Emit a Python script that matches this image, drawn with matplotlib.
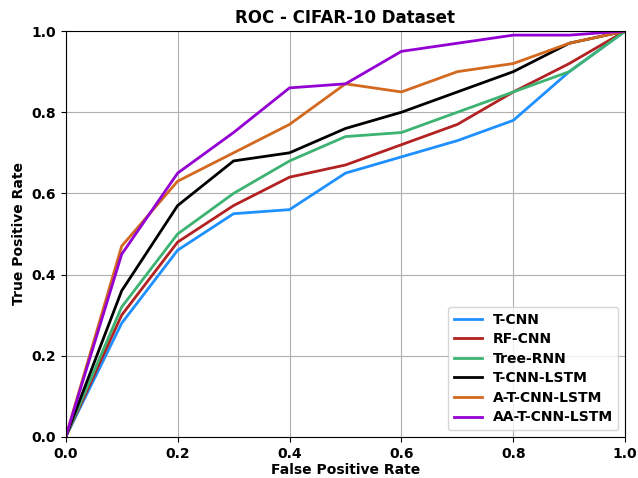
import numpy as np
import matplotlib.pyplot as plt

# ROC points sampled at fixed false positive rates
fpr = [0.0, 0.1, 0.2, 0.3, 0.4, 0.5, 0.6, 0.7, 0.8, 0.9, 1.0]

tpr_tcnn = [0.0, 0.28, 0.46, 0.55, 0.56, 0.65, 0.69, 0.73, 0.78, 0.90, 1.0]
tpr_rfcnn = [0.0, 0.30, 0.48, 0.57, 0.64, 0.67, 0.72, 0.77, 0.85, 0.92, 1.0]
tpr_treernn = [0.0, 0.32, 0.50, 0.60, 0.68, 0.74, 0.75, 0.80, 0.85, 0.90, 1.0]
tpr_tcnn_lstm = [0.0, 0.36, 0.57, 0.68, 0.70, 0.76, 0.80, 0.85, 0.90, 0.97, 1.0]
tpr_at_tcnn_lstm = [0.0, 0.47, 0.63, 0.70, 0.77, 0.87, 0.85, 0.90, 0.92, 0.97, 1.0]
tpr_aat_tcnn_lstm = [0.0, 0.45, 0.65, 0.75, 0.86, 0.87, 0.95, 0.97, 0.99, 0.99, 1.0]

models = ["T-CNN", "RF-CNN", "Tree-RNN", "T-CNN-LSTM", "A-T-CNN-LSTM", "AA-T-CNN-LSTM"]
curves = [tpr_tcnn, tpr_rfcnn, tpr_treernn, tpr_tcnn_lstm, tpr_at_tcnn_lstm, tpr_aat_tcnn_lstm]
colors = ["dodgerblue", "firebrick", "mediumseagreen", "black", "chocolate", "darkviolet"]

plt.rcParams["font.weight"] = "bold"

fig, ax = plt.subplots(figsize=(6.38, 4.78), dpi=100)
for name, tpr, c in zip(models, curves, colors):
    ax.plot(fpr, tpr, color=c, linewidth=2, label=name)

ax.set_xlim(0, 1)
ax.set_ylim(0, 1)
ax.set_title("ROC - CIFAR-10 Dataset", fontweight="bold")
ax.set_xlabel("False Positive Rate", fontweight="bold", labelpad=2)
ax.set_ylabel("True Positive Rate", fontweight="bold")
ax.grid(True)
ax.legend(loc="lower right", prop={"weight": "bold"}, labelspacing=0.4)

fig.subplots_adjust(left=0.103, right=0.98, top=0.935, bottom=0.086)
fig.savefig("out.png", dpi=100)
